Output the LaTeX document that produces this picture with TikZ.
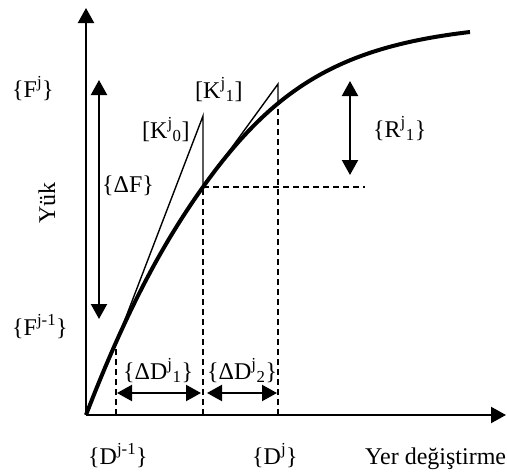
\documentclass[tikz,border=0pt]{standalone}
\usepackage{fontspec}
\setmainfont{Liberation Serif}
\usetikzlibrary{arrows.meta}
\begin{document}
\begin{tikzpicture}[x=1pt,y=-1pt,
  lbl/.style={anchor=base west,inner sep=0pt,font=\fontsize{24}{28}\selectfont},
  tipa/.style={-{Triangle[length=15pt,width=16pt]}},
  axis/.style={line width=2.2pt,tipa},
  dbl/.style={line width=2.2pt,{Triangle[length=15pt,width=16pt]}-{Triangle[length=15pt,width=16pt]}},
  thinln/.style={line width=1.4pt},
  dsh/.style={line width=1.5pt,dash pattern=on 6pt off 4pt},
  crv/.style={line width=4pt}]
\useasboundingbox (0,0) rectangle (507,472);
% key points
\coordinate (O) at (86,415);
\coordinate (Ytop) at (86,8);
\coordinate (Xend) at (506,415);
\coordinate (P1) at (116,343);
\coordinate (P2) at (203,187);
\coordinate (P3) at (278,104);
\coordinate (E) at (470,32);
\coordinate (K0t) at (203,116);
\coordinate (K1t) at (278,84);
\coordinate (B1) at (116,415);
\coordinate (B2) at (203,415);
\coordinate (B3) at (278,415);
\coordinate (H) at (365,187);
\coordinate (dFt) at (99,80);
\coordinate (dFb) at (99,319);
\coordinate (Rt) at (350,81);
\coordinate (Rb) at (350,175);
\coordinate (D1a) at (117,393);
\coordinate (D1b) at (201,393);
\coordinate (D2a) at (207,393);
\coordinate (D2b) at (277,393);
% dashed helpers
\draw[dsh] (B1) -- (P1);
\draw[dsh] (B2) -- (P2);
\draw[dsh] (B3) -- (P3);
\draw[dsh] (P2) -- (H);
% tangent stiffness lines
\draw[thinln] (P1) -- (K0t) -- (P2);
\draw[thinln] (P2) -- (K1t) -- (P3);
% curve
\draw[crv] (O) .. controls (126,311) and (163,243) .. (P2)
               .. controls (275,86) and (342,47) .. (E);
% axes
\draw[axis] (O) -- (Ytop);
\draw[axis] (O) -- (Xend);
% arrows
\draw[dbl] (dFt) -- (dFb);
\draw[dbl] (Rt) -- (Rb);
\draw[dbl] (D1a) -- (D1b);
\draw[dbl] (D2a) -- (D2b);
% labels
\node[lbl] (Fj) at (12,97) {\{F\textsuperscript{j}\}};
\node[lbl] (Fj1) at (12,335) {\{F\textsuperscript{j-1}\}};
\node[lbl] (K1) at (195,98) {[K\textsuperscript{j}\textsubscript{1}]};
\node[lbl] (K0) at (142,138) {[K\textsuperscript{j}\textsubscript{0}]};
\node[lbl] (dF) at (102,192) {\{ΔF\}};
\node[lbl] (R1) at (373,137) {\{R\textsuperscript{j}\textsubscript{1}\}};
\node[lbl] (dD1) at (123,379) {\{ΔD\textsuperscript{j}\textsubscript{1}\}};
\node[lbl] (dD2) at (207,379) {\{ΔD\textsuperscript{j}\textsubscript{2}\}};
\node[lbl] (Dj1) at (88,464) {\{D\textsuperscript{j-1}\}};
\node[lbl] (Dj) at (252,464) {\{D\textsuperscript{j}\}};
\node[lbl] (Yer) at (365,464) {Yer değiştirme};
\node[font=\fontsize{24}{28}\selectfont,rotate=90,inner sep=0pt] (Yuk) at (47,203) {Yük};
\end{tikzpicture}
\end{document}
